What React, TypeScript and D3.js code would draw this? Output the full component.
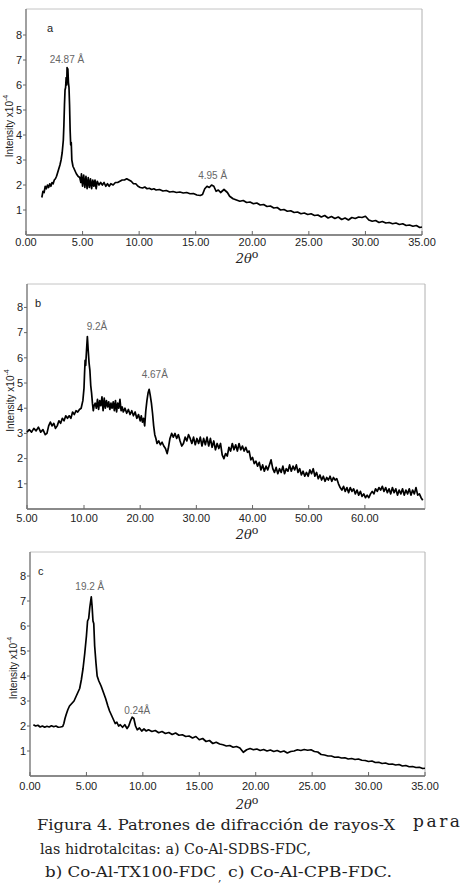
import React from 'react';
import * as d3 from 'd3';

const yTicks = [1, 2, 3, 4, 5, 6, 7, 8];
const xTicksA = [0, 5, 10, 15, 20, 25, 30, 35];
const xTicksB = [5, 10, 20, 30, 40, 50, 60];
const xTicksC = [0, 5, 10, 15, 20, 25, 30, 35];

// a) Co-Al-SDBS-FDC  [2theta, intensity x10^-4]
const patternA: [number, number][] = [
  [1.4,1.5],[1.5,1.75],[1.6,1.7],[1.7,1.95],[1.8,1.85],[1.9,2.0],[2.0,1.9],[2.1,2.05],[2.2,1.95],[2.3,2.1],
  [2.4,2.05],[2.5,2.2],[2.6,2.25],[2.7,2.35],[2.8,2.5],[2.9,2.65],[3.0,2.8],[3.1,3.0],[3.2,3.3],[3.3,3.8],
  [3.35,4.4],[3.4,5.2],[3.45,5.8],[3.5,5.9],[3.55,6.3],[3.6,6.0],[3.63,6.7],[3.66,6.2],[3.7,6.65],[3.75,6.1],
  [3.8,5.9],[3.85,5.2],[3.9,4.2],[3.95,3.6],[4.0,3.7],[4.05,3.0],[4.15,2.75],[4.3,2.6],[4.45,2.45],[4.6,2.35],
  [4.75,2.3],[4.85,2.1],[4.9,2.45],[5.0,1.95],[5.1,2.4],[5.2,1.9],[5.3,2.35],[5.4,1.85],[5.5,2.3],[5.6,1.9],
  [5.7,2.25],[5.8,1.85],[5.9,2.2],[6.0,1.95],[6.1,2.2],[6.2,1.85],[6.3,2.15],[6.45,2.0],[6.6,2.1],[6.75,2.0],
  [6.9,2.1],[7.05,1.95],[7.2,2.05],[7.35,1.95],[7.5,2.05],[7.7,2.0],[7.9,2.1],[8.1,2.1],[8.3,2.15],[8.5,2.2],
  [8.7,2.2],[8.9,2.25],[9.1,2.2],[9.3,2.15],[9.5,2.05],[9.7,2.05],[9.9,1.95],[10.1,1.9],[10.3,1.88],[10.5,1.92],
  [10.7,1.85],[10.9,1.87],[11.1,1.82],[11.3,1.85],[11.5,1.8],[11.8,1.82],[12.1,1.76],[12.4,1.78],[12.7,1.72],[13.0,1.74],
  [13.3,1.7],[13.6,1.72],[13.9,1.68],[14.2,1.7],[14.5,1.65],[14.8,1.66],[15.1,1.6],[15.4,1.58],[15.6,1.62],[15.8,1.85],
  [16.0,1.95],[16.2,1.9],[16.4,2.0],[16.6,1.95],[16.8,1.75],[17.0,1.8],[17.2,1.7],[17.5,1.82],[17.8,1.7],[18.0,1.55],
  [18.3,1.45],[18.6,1.4],[18.9,1.35],[19.2,1.38],[19.5,1.3],[19.8,1.32],[20.1,1.25],[20.4,1.28],[20.7,1.2],[21.0,1.22],
  [21.3,1.14],[21.6,1.16],[21.9,1.08],[22.2,1.1],[22.5,1.0],[22.8,1.02],[23.1,0.95],[23.4,0.97],[23.7,0.9],[24.0,0.92],
  [24.3,0.85],[24.6,0.88],[24.9,0.82],[25.2,0.85],[25.5,0.78],[25.8,0.8],[26.1,0.72],[26.4,0.78],[26.7,0.68],[27.0,0.74],
  [27.3,0.66],[27.6,0.72],[27.9,0.62],[28.2,0.68],[28.5,0.6],[28.8,0.7],[29.1,0.66],[29.4,0.72],[29.7,0.7],[30.0,0.75],
  [30.3,0.6],[30.6,0.55],[30.9,0.58],[31.2,0.5],[31.5,0.54],[31.8,0.48],[32.1,0.5],[32.4,0.45],[32.7,0.48],[33.0,0.42],
  [33.3,0.45],[33.6,0.38],[33.9,0.4],[34.2,0.35],[34.5,0.38],[34.8,0.3],[35.0,0.32],
];

// b) Co-Al-TX100-FDC
const patternB: [number, number][] = [
  [5.0,3.05],[5.2,3.15],[5.4,3.05],[5.6,3.2],[5.8,3.1],[6.0,3.25],[6.2,3.05],[6.4,3.15],[6.6,2.95],[6.75,3.0],
  [6.9,3.3],[7.05,3.45],[7.2,3.3],[7.35,3.4],[7.5,3.2],[7.65,3.3],[7.8,3.5],[7.95,3.4],[8.1,3.6],[8.25,3.5],
  [8.4,3.7],[8.55,3.6],[8.7,3.7],[8.85,3.6],[9.0,3.85],[9.15,3.75],[9.3,3.9],[9.45,3.85],[9.6,3.95],[9.75,4.0],
  [9.9,4.3],[10.0,4.8],[10.1,5.4],[10.2,5.9],[10.3,5.7],[10.45,6.3],[10.6,6.84],[10.75,6.3],[10.9,5.8],[11.05,5.5],
  [11.2,4.9],[11.35,4.6],[11.5,4.2],[11.65,3.9],[11.8,4.1],[12.0,4.2],[12.2,4.0],[12.4,4.35],[12.6,3.95],[12.8,4.3],
  [13.0,4.1],[13.2,4.45],[13.4,3.9],[13.6,4.4],[13.8,4.0],[14.0,4.3],[14.2,4.05],[14.4,4.25],[14.6,3.95],[14.8,4.2],
  [15.0,4.0],[15.2,4.25],[15.4,3.9],[15.6,4.3],[15.8,3.85],[16.0,4.2],[16.2,4.0],[16.4,4.35],[16.6,3.9],[16.8,4.05],
  [17.0,3.85],[17.3,4.0],[17.6,3.8],[17.9,3.95],[18.2,3.75],[18.5,3.9],[18.8,3.7],[19.1,3.85],[19.4,3.6],[19.7,3.75],
  [20.0,3.5],[20.2,3.7],[20.4,3.45],[20.6,3.6],[20.8,3.3],[21.0,3.9],[21.2,4.3],[21.4,4.6],[21.6,4.75],[21.8,4.5],
  [22.0,4.2],[22.2,3.8],[22.4,3.3],[22.6,2.95],[22.8,2.8],[23.0,2.6],[23.3,2.7],[23.6,2.55],[23.9,2.65],[24.2,2.5],
  [24.5,2.4],[24.8,2.2],[25.0,2.4],[25.3,2.8],[25.6,3.0],[25.9,2.85],[26.2,3.0],[26.5,2.8],[26.8,2.95],[27.1,2.7],
  [27.4,2.5],[27.7,2.6],[28.0,2.85],[28.3,2.7],[28.6,2.95],[28.9,2.8],[29.2,2.6],[29.5,2.85],[29.8,2.55],[30.1,2.8],
  [30.4,2.6],[30.7,2.85],[31.0,2.5],[31.3,2.8],[31.6,2.55],[31.9,2.85],[32.2,2.5],[32.5,2.8],[32.8,2.45],[33.1,2.7],
  [33.4,2.35],[33.7,2.6],[34.0,2.4],[34.3,2.6],[34.6,2.15],[34.9,2.0],[35.2,2.2],[35.5,2.1],[35.8,2.45],[36.1,2.3],
  [36.4,2.6],[36.7,2.35],[37.0,2.55],[37.3,2.3],[37.6,2.6],[37.9,2.35],[38.2,2.5],[38.5,2.3],[38.8,2.45],[39.1,2.25],
  [39.4,2.3],[39.7,1.95],[40.0,2.05],[40.3,1.8],[40.6,1.9],[40.9,1.7],[41.2,1.85],[41.5,1.55],[41.8,1.75],[42.1,1.5],
  [42.4,1.7],[42.7,1.55],[43.0,1.75],[43.3,1.95],[43.6,1.6],[43.9,1.45],[44.2,1.65],[44.5,1.4],[44.8,1.6],[45.1,1.45],
  [45.4,1.7],[45.7,1.4],[46.0,1.6],[46.3,1.5],[46.6,1.75],[46.9,1.5],[47.2,1.7],[47.5,1.55],[47.8,1.75],[48.1,1.45],
  [48.4,1.6],[48.7,1.35],[49.0,1.5],[49.3,1.3],[49.6,1.45],[49.9,1.3],[50.2,1.55],[50.5,1.4],[50.8,1.6],[51.1,1.3],
  [51.4,1.45],[51.7,1.2],[52.0,1.35],[52.3,1.15],[52.6,1.3],[52.9,1.1],[53.2,1.25],[53.5,1.15],[53.8,1.3],[54.1,1.1],
  [54.4,1.25],[54.7,1.15],[55.0,1.2],[55.3,1.0],[55.6,0.85],[55.9,0.75],[56.2,0.9],[56.5,0.7],[56.8,0.85],[57.1,0.65],
  [57.4,0.85],[57.7,0.7],[58.0,0.8],[58.3,0.6],[58.6,0.75],[58.9,0.55],[59.2,0.7],[59.5,0.5],[59.8,0.6],[60.1,0.45],
  [60.4,0.55],[60.7,0.45],[61.0,0.6],[61.3,0.7],[61.6,0.6],[61.9,0.8],[62.2,0.7],[62.5,0.85],[62.8,0.75],[63.1,0.9],
  [63.4,0.7],[63.7,0.85],[64.0,0.65],[64.3,0.8],[64.6,0.6],[64.9,0.85],[65.2,0.65],[65.5,0.8],[65.8,0.55],[66.1,0.75],
  [66.4,0.6],[66.7,0.8],[67.0,0.55],[67.3,0.75],[67.6,0.6],[67.9,0.8],[68.2,0.55],[68.5,0.75],[68.8,0.6],[69.1,0.85],
  [69.4,0.55],[69.7,0.6],[70.0,0.45],[70.3,0.35],
];

// c) Co-Al-CPB-FDC
const patternC: [number, number][] = [
  [0.3,2.05],[0.5,2.0],[0.7,2.03],[0.9,1.96],[1.1,2.0],[1.3,1.95],[1.5,1.99],[1.7,1.96],[1.9,2.01],[2.1,1.97],
  [2.3,2.0],[2.5,1.95],[2.7,1.96],[2.9,1.98],[3.0,2.1],[3.1,2.3],[3.2,2.45],[3.35,2.65],[3.5,2.8],[3.7,2.9],
  [3.9,3.0],[4.1,3.2],[4.25,3.35],[4.4,3.5],[4.55,3.85],[4.7,4.3],[4.85,4.9],[5.0,5.6],[5.1,6.2],[5.2,6.3],
  [5.3,6.75],[5.43,7.17],[5.5,6.8],[5.58,6.2],[5.65,6.1],[5.73,5.2],[5.85,4.5],[5.95,4.0],[6.1,3.8],[6.3,3.6],
  [6.5,3.35],[6.7,3.1],[6.9,2.8],[7.05,2.6],[7.2,2.45],[7.4,2.25],[7.55,2.1],[7.7,2.15],[7.85,2.0],[8.0,2.05],
  [8.2,1.95],[8.4,2.05],[8.6,1.9],[8.75,2.0],[8.9,2.2],[9.05,2.35],[9.2,2.3],[9.35,2.0],[9.5,1.85],[9.7,1.92],
  [9.9,1.8],[10.1,1.88],[10.3,1.8],[10.5,1.85],[10.8,1.78],[11.1,1.82],[11.4,1.73],[11.7,1.78],[12.0,1.7],[12.3,1.74],
  [12.6,1.66],[12.9,1.72],[13.2,1.63],[13.5,1.65],[13.8,1.58],[14.1,1.6],[14.4,1.52],[14.7,1.58],[15.0,1.45],[15.3,1.5],
  [15.6,1.38],[15.9,1.42],[16.2,1.3],[16.5,1.35],[16.8,1.28],[17.1,1.25],[17.4,1.2],[17.7,1.22],[18.0,1.15],[18.3,1.18],
  [18.6,1.12],[18.9,0.95],[19.2,1.05],[19.5,1.1],[19.8,1.05],[20.1,1.08],[20.4,1.02],[20.7,1.06],[21.0,1.0],[21.3,1.04],
  [21.6,0.98],[21.9,1.02],[22.2,0.96],[22.5,1.0],[22.8,0.92],[23.1,0.98],[23.4,1.0],[23.7,1.05],[24.0,1.02],[24.3,1.06],
  [24.6,1.03],[24.9,1.05],[25.2,0.98],[25.5,0.96],[25.8,0.86],[26.1,0.84],[26.4,0.8],[26.7,0.8],[27.0,0.75],[27.3,0.76],
  [27.6,0.72],[27.9,0.73],[28.2,0.68],[28.5,0.7],[28.8,0.66],[29.1,0.68],[29.4,0.63],[29.7,0.62],[30.0,0.58],[30.3,0.6],
  [30.6,0.54],[30.9,0.55],[31.2,0.5],[31.5,0.52],[31.8,0.47],[32.1,0.48],[32.4,0.44],[32.7,0.46],[33.0,0.4],[33.3,0.42],
  [33.6,0.37],[33.9,0.38],[34.2,0.34],[34.5,0.35],[34.8,0.3],[35.0,0.31],
];

// peak labels: [text, 2theta, intensity]
const notesA: [string, number, number][] = [['24.87 Å', 3.62, 6.88], ['4.95 Å', 16.5, 2.24]];
const notesB: [string, number, number][] = [['9.2Å', 12.3, 7.1], ['4.67Å', 22.6, 5.2]];
const notesC: [string, number, number][] = [['19.2 Å', 5.3, 7.44], ['0.24Å', 9.5, 2.48]];

const fmt = d3.format('.2f');
const sans = 'Liberation Sans, Arial, sans-serif';
const serif = 'DejaVu Serif, serif';

type Props = {
  data: [number, number][];
  x: d3.ScaleLinear<number, number>;
  y: d3.ScaleLinear<number, number>;
  xTicks: number[];
  notes: [string, number, number][];
  letter: string;
  letterX: number;
  tickLabelY: number;
  titleY: number;
  yTitleX: number;
};

function Panel({ data, x, y, xTicks, notes, letter, letterX, tickLabelY, titleY, yTitleX }: Props) {
  const [x0, x1] = [x.range()[0], x.range()[x.range().length - 1]];
  const [y0, y1] = y.range();
  const line = d3.line<[number, number]>().x(d => x(d[0])).y(d => y(d[1]));
  return (
    <g>
      <line x1={x0} x2={x1} y1={y1} y2={y1} stroke="#c4c4c4" />
      <line x1={x1} x2={x1} y1={y1} y2={y0} stroke="#b0b0b0" />
      <line x1={x0} x2={x0} y1={y1} y2={y0} stroke="#808080" strokeWidth={1.5} />
      <line x1={x0} x2={x1} y1={y0} y2={y0} stroke="#8a8a8a" strokeWidth={2} />
      {yTicks.map(t => (
        <g key={t}>
          <line x1={x0 - 3} x2={x0} y1={y(t)} y2={y(t)} stroke="#666" />
          <text x={x0 - 4} y={y(t)} dy="0.35em" textAnchor="end" fontSize={11} fontFamily={sans} fill="#222">{t}</text>
        </g>
      ))}
      {xTicks.map(t => (
        <g key={t}>
          <line x1={x(t)} x2={x(t)} y1={y0} y2={y0 - 4} stroke="#666" />
          <text x={x(t)} y={tickLabelY} textAnchor="middle" fontSize={11} fontFamily={sans} fill="#222">{fmt(t)}</text>
        </g>
      ))}
      <text transform={`translate(${yTitleX},${(y0 + y1) / 2 + 4}) rotate(-90)`} textAnchor="middle" fontSize={10} fontFamily={sans} fill="#222">
        Intensity x10<tspan dy={-5} fontSize={7}>-4</tspan>
      </text>
      <text x={247} y={titleY} textAnchor="middle" fontSize={13} fontFamily={serif} fill="#222">
        <tspan fontStyle="italic">2θ</tspan><tspan dy={-5} fontSize={11}>o</tspan>
      </text>
      <text x={letterX} y={y1 + 23} fontSize={11} fontFamily={sans} fill="#222">{letter}</text>
      {notes.map(([s, a, b]) => (
        <text key={s} x={x(a)} y={y(b)} textAnchor="middle" fontSize={10} fontFamily={sans} fill="#666">{s}</text>
      ))}
      <path d={line(data) ?? ''} fill="none" stroke="#000" strokeWidth={1.7} strokeLinejoin="round" />
    </g>
  );
}

export default function App() {
  const xA = d3.scaleLinear().domain([0, 35]).range([26, 422]);
  const yA = d3.scaleLinear().domain([0, 9.04]).range([235, 9]);
  const xB = d3.scaleLinear().domain([5, 10, 70.7]).range([27, 84, 425]);
  const yB = d3.scaleLinear().domain([0, 8.93]).range([509, 284]);
  const xC = d3.scaleLinear().domain([0, 35]).range([30, 425]);
  const yC = d3.scaleLinear().domain([0, 8.96]).range([776, 552]);

  return (
    <div style={{ position: 'absolute', left: 0, top: 0 }}>
      <svg width={466} height={896} style={{ display: 'block', background: '#fff' }}>
        <Panel data={patternA} x={xA} y={yA} xTicks={xTicksA} notes={notesA} letter="a" letterX={47} tickLabelY={246} titleY={263} yTitleX={13} />
        <Panel data={patternB} x={xB} y={yB} xTicks={xTicksB} notes={notesB} letter="b" letterX={35} tickLabelY={522} titleY={539} yTitleX={14} />
        <Panel data={patternC} x={xC} y={yC} xTicks={xTicksC} notes={notesC} letter="c" letterX={38} tickLabelY={790} titleY={809} yTitleX={17} />
        <g fontFamily={serif} fill="#222">
          <text x={37} y={830} fontSize={14} textLength={358} lengthAdjust="spacingAndGlyphs">Figura 4. Patrones de difracción de rayos-X</text>
          <text x={413} y={827} fontSize={17} textLength={47} lengthAdjust="spacing">para</text>
          <text x={40} y={854} fontSize={14} textLength={271} lengthAdjust="spacingAndGlyphs">las hidrotalcitas: a) Co-Al-SDBS-FDC,</text>
          <text x={45} y={877} fontSize={14} textLength={171} lengthAdjust="spacingAndGlyphs">b) Co-Al-TX100-FDC</text>
          <text x={218} y={881} fontSize={11}>,</text>
          <text x={228} y={877} fontSize={14} textLength={164} lengthAdjust="spacingAndGlyphs">c) Co-Al-CPB-FDC.</text>
        </g>
      </svg>
    </div>
  );
}
